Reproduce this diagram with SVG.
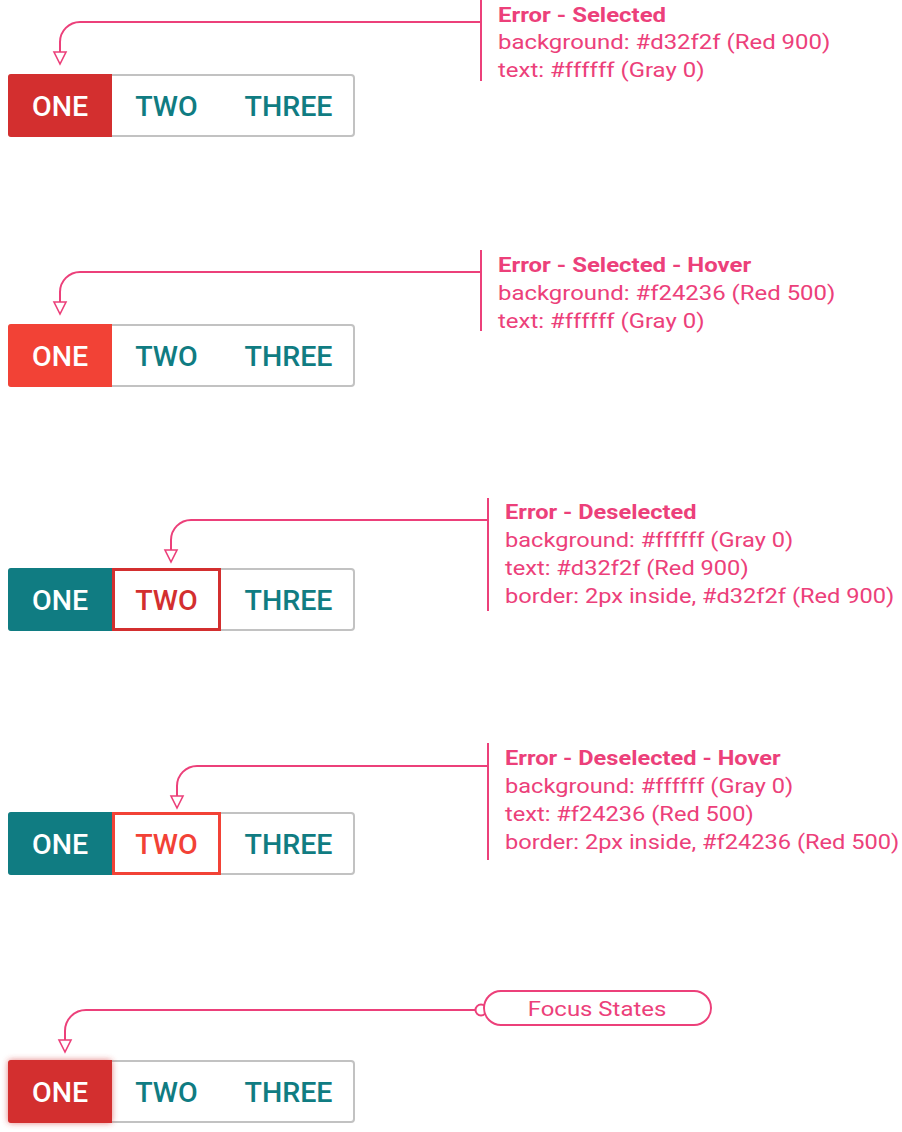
<svg xmlns="http://www.w3.org/2000/svg" width="902" height="1132" viewBox="0 0 902 1132">
<defs>
<style>
.conn{fill:none;stroke:#ec407a;stroke-width:2}
.lbl{font-family:Roboto,"Liberation Sans",sans-serif;font-size:21px;fill:#ec407a}
.h{font-weight:700}
.frame{fill:#fff;stroke:#c2c2c2;stroke-width:2}
.btn{font-family:Roboto,"Liberation Sans",sans-serif;font-size:27px;font-weight:500;text-anchor:middle;fill:#107c82}
.w{fill:#fff}
</style>
<filter id="glow" x="-30%" y="-30%" width="160%" height="160%">
<feGaussianBlur stdDeviation="3"/>
</filter>
</defs>

<g id="connectors">
<path class="conn" d="M481,22 H80 A20,20 0 0 0 60,42 V64"/>
<path class="conn" d="M481,0 V81"/>
<path class="conn" d="M481,272 H80 A20,20 0 0 0 60,292 V314"/>
<path class="conn" d="M481,250 V331"/>
<path class="conn" d="M488,520 H191 A20,20 0 0 0 171,540 V562"/>
<path class="conn" d="M488,498 V611"/>
<path class="conn" d="M488,766 H197 A20,20 0 0 0 177,786 V808"/>
<path class="conn" d="M488,743 V860"/>
<path class="conn" d="M476,1010 H86 A21,21 0 0 0 65,1031 V1052"/>
<path d="M54,52 H66 L60,64 Z M54,302 H66 L60,314 Z M165,550 H177 L171,562 Z M171,796 H183 L177,808 Z M59,1040 H71 L65,1052 Z" fill="#fff" stroke="#ec407a" stroke-width="1.6" stroke-linejoin="miter"/>
<circle cx="481" cy="1010" r="5.5" fill="#fff" stroke="#ec407a" stroke-width="2"/>
</g>

<g id="note1" transform="translate(498,0) scale(1.14,1)">
<text class="lbl h" x="0" y="22">Error - Selected</text>
<text class="lbl" x="0" y="49">background: #d32f2f (Red 900)</text>
<text class="lbl" x="0" y="77">text: #ffffff (Gray 0)</text>
</g>
<g id="note2" transform="translate(498,0) scale(1.14,1)">
<text class="lbl h" x="0" y="272">Error - Selected - Hover</text>
<text class="lbl" x="0" y="300">background: #f24236 (Red 500)</text>
<text class="lbl" x="0" y="328">text: #ffffff (Gray 0)</text>
</g>
<g id="note3" transform="translate(505,0) scale(1.125,1)">
<text class="lbl h" x="0" y="519">Error - Deselected</text>
<text class="lbl" x="0" y="547">background: #ffffff (Gray 0)</text>
<text class="lbl" x="0" y="575">text: #d32f2f (Red 900)</text>
<text class="lbl" x="0" y="603">border: 2px inside, #d32f2f (Red 900)</text>
</g>
<g id="note4" transform="translate(505,0) scale(1.125,1)">
<text class="lbl h" x="0" y="765">Error - Deselected - Hover</text>
<text class="lbl" x="0" y="793">background: #ffffff (Gray 0)</text>
<text class="lbl" x="0" y="821">text: #f24236 (Red 500)</text>
<text class="lbl" x="0" y="849">border: 2px inside, #f24236 (Red 500)</text>
</g>
<g id="focus-label">
<rect x="484" y="991" width="227" height="34" rx="17" fill="#fff" stroke="#ec407a" stroke-width="2"/>
<text class="lbl" transform="translate(597,1016) scale(1.14,1)" x="0" y="0" text-anchor="middle">Focus States</text>
</g>

<g id="toggle1">
<rect class="frame" x="9" y="75" width="345" height="61" rx="3"/>
<path d="M11,74 H112 V137 H11 A3,3 0 0 1 8,134 V77 A3,3 0 0 1 11,74 Z" fill="#d32f2f"/>
<g transform="translate(0,116)">
<text class="btn w" transform="translate(60,0) scale(1.06,1)">ONE</text>
<text class="btn" transform="translate(166.5,0) scale(1.06,1)">TWO</text>
<text class="btn" transform="translate(288.5,0) scale(1.06,1)">THREE</text>
</g>
</g>

<g id="toggle2">
<rect class="frame" x="9" y="325" width="345" height="61" rx="3"/>
<path d="M11,324 H112 V387 H11 A3,3 0 0 1 8,384 V327 A3,3 0 0 1 11,324 Z" fill="#f24236"/>
<g transform="translate(0,366)">
<text class="btn w" transform="translate(60,0) scale(1.06,1)">ONE</text>
<text class="btn" transform="translate(166.5,0) scale(1.06,1)">TWO</text>
<text class="btn" transform="translate(288.5,0) scale(1.06,1)">THREE</text>
</g>
</g>

<g id="toggle3">
<rect class="frame" x="9" y="569" width="345" height="61" rx="3"/>
<path d="M11,568 H112 V631 H11 A3,3 0 0 1 8,628 V571 A3,3 0 0 1 11,568 Z" fill="#107c82"/>
<rect x="113.5" y="569.5" width="106" height="60" fill="#fff" stroke="#d32f2f" stroke-width="3"/>
<g transform="translate(0,610)">
<text class="btn w" transform="translate(60,0) scale(1.06,1)">ONE</text>
<text class="btn" transform="translate(166.5,0) scale(1.06,1)" style="fill:#d32f2f">TWO</text>
<text class="btn" transform="translate(288.5,0) scale(1.06,1)">THREE</text>
</g>
</g>

<g id="toggle4">
<rect class="frame" x="9" y="813" width="345" height="61" rx="3"/>
<path d="M11,812 H112 V875 H11 A3,3 0 0 1 8,872 V815 A3,3 0 0 1 11,812 Z" fill="#107c82"/>
<rect x="113.5" y="813.5" width="106" height="60" fill="#fff" stroke="#f24236" stroke-width="3"/>
<g transform="translate(0,854)">
<text class="btn w" transform="translate(60,0) scale(1.06,1)">ONE</text>
<text class="btn" transform="translate(166.5,0) scale(1.06,1)" style="fill:#f24236">TWO</text>
<text class="btn" transform="translate(288.5,0) scale(1.06,1)">THREE</text>
</g>
</g>

<g id="toggle5">
<rect class="frame" x="9" y="1061" width="345" height="61" rx="3"/>
<rect x="8" y="1060" width="104" height="63" rx="3" fill="#d32f2f" opacity="0.6" filter="url(#glow)"/>
<path d="M11,1060 H112 V1123 H11 A3,3 0 0 1 8,1120 V1063 A3,3 0 0 1 11,1060 Z" fill="#d32f2f"/>
<g transform="translate(0,1102)">
<text class="btn w" transform="translate(60,0) scale(1.06,1)">ONE</text>
<text class="btn" transform="translate(166.5,0) scale(1.06,1)">TWO</text>
<text class="btn" transform="translate(288.5,0) scale(1.06,1)">THREE</text>
</g>
</g>
</svg>
